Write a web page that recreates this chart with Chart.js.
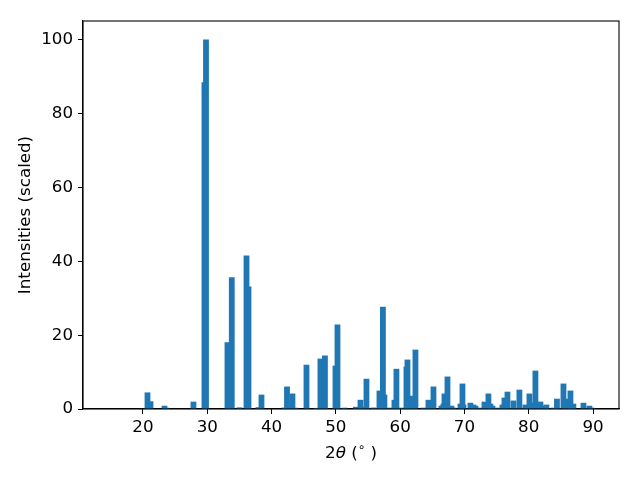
<!DOCTYPE html>
<html>
<head>
<meta charset="utf-8">
<script src="https://cdn.jsdelivr.net/npm/chart.js@4.4.1/dist/chart.umd.min.js"></script>
<style>
  body { margin: 0; background: #fff; }
  canvas { display: block; }
</style>
</head>
<body>
<canvas id="xrd" width="640" height="480"></canvas>
<script>
// peak positions (2theta, degrees) and scaled intensities
var twoTheta = [20.70, 21.17, 23.34, 23.65, 27.85, 29.56, 29.80, 33.14, 33.81, 35.01,
  36.41, 36.10, 37.96, 38.43, 42.00, 42.40, 43.25, 43.72, 45.43, 46.98,
  47.60, 48.30, 49.94, 50.25, 51.34, 53.10, 53.83, 53.98, 54.76, 55.85,
  56.78, 57.55, 57.32, 58.34, 59.11, 59.42, 60.20, 60.98, 61.14, 61.91,
  62.38, 63.62, 64.40, 65.18, 66.42, 66.73, 66.89, 67.36, 67.98, 68.29,
  69.38, 69.69, 69.84, 70.93, 71.40, 71.71, 72.33, 73.11, 73.73, 74.04,
  74.35, 75.12, 75.91, 76.22, 76.69, 77.62, 78.55, 79.49, 80.11, 80.27,
  81.04, 81.82, 82.44, 82.75, 83.84, 84.39, 85.40, 86.17, 86.49, 86.95,
  88.51, 89.44, 89.75];
var intensity = [4.4, 2.0, 0.8, 0.25, 1.9, 88.4, 100, 18.0, 35.6, 0.35,
  33.1, 41.5, 0.4, 3.8, 0.3, 6.0, 4.1, 0.25, 11.9, 0.2,
  13.55, 14.4, 11.65, 22.8, 0.27, 0.5, 2.4, 0.5, 8.1, 0.3,
  4.9, 3.8, 27.6, 0.27, 2.4, 10.8, 0.27, 11.4, 13.3, 3.5,
  16.0, 0.27, 2.4, 6.0, 0.8, 1.35, 4.1, 8.7, 0.8, 0.27,
  1.35, 6.8, 1.1, 1.6, 1.1, 0.8, 0.27, 1.9, 4.1, 1.35,
  0.8, 0.27, 1.1, 3.0, 4.6, 2.2, 5.15, 1.1, 4.1, 1.6,
  10.3, 1.9, 0.8, 1.1, 0.27, 2.7, 6.8, 2.7, 4.9, 1.35,
  1.6, 0.8, 0.27];
var xTicks = [20, 30, 40, 50, 60, 70, 80, 90];
var yTicks = [0, 20, 40, 60, 80, 100];
var yTitle = 'Intensities (scaled)';

var points = [];
for (var i in twoTheta) {
  points.push({x: twoTheta[i], y: intensity[i]});
}
// overlapping bars: paint the small ones first so the tall ones stay on top
points.sort(function(a, b){ return a.y - b.y; });

var txt = {family: 'DejaVu Sans', size: 16.7};

var frame = {
  id: 'frame',
  beforeDraw: function(chart){
    var c = chart.ctx;
    c.save();
    c.fillStyle = '#fff';
    c.fillRect(0, 0, chart.width, chart.height);
    c.restore();
  },
  afterDraw: function(chart){
    var a = chart.chartArea, c = chart.ctx;
    c.save();
    c.strokeStyle = '#000';
    c.lineWidth = 1.1;
    c.strokeRect(a.left, a.top, a.right - a.left, a.bottom - a.top);

    // x label "2θ (°)" with italic theta and raised degree ring, like mathtext
    var parts = [
      {t: '2', f: '16.7px "DejaVu Sans"', dy: 0},
      {t: 'θ', f: 'italic 16.7px "DejaVu Sans"', dy: 0},
      {t: ' (', f: '16.7px "DejaVu Sans"', dy: 0},
      {t: '∘', f: '12px "DejaVu Sans"', dy: -7},
      {t: ' )', f: '16.7px "DejaVu Sans"', dy: 0}
    ];
    var total = 0;
    parts.forEach(function(p){ c.font = p.f; p.w = c.measureText(p.t).width; total += p.w; });
    var x = (a.left + a.right) / 2 - total / 2;
    c.fillStyle = '#000';
    c.textBaseline = 'alphabetic';
    c.textAlign = 'left';
    parts.forEach(function(p){ c.font = p.f; c.fillText(p.t, x, 458 + p.dy); x += p.w; });
    c.restore();
  }
};

new Chart(document.getElementById('xrd'), {
  type: 'bar',
  data: {
    datasets: [{
      data: points,
      backgroundColor: '#1f77b4',
      borderWidth: 0,
      barThickness: 5.14
    }]
  },
  options: {
    responsive: false,
    animation: false,
    devicePixelRatio: 1,
    layout: {padding: {left: 0, top: 21, right: 21, bottom: 10}},
    plugins: {legend: {display: false}, tooltip: {enabled: false}},
    scales: {
      x: {
        type: 'linear',
        min: 10.67,
        max: 94.04,
        offset: false,
        grid: {display: true, offset: false, drawOnChartArea: false, drawTicks: true, tickLength: 5, color: '#000'},
        border: {display: true, color: '#000', width: 1.1},
        ticks: {color: '#000', font: txt, padding: 4, maxRotation: 0},
        afterBuildTicks: function(s){ s.ticks = xTicks.map(function(v){ return {value: v}; }); },
        afterFit: function(s){ s.height = 61; },
        title: {display: false}
      },
      y: {
        min: 0,
        max: 105.1,
        grid: {display: true, drawOnChartArea: false, drawTicks: true, tickLength: 5, color: '#000'},
        border: {display: true, color: '#000', width: 1.1},
        ticks: {color: '#000', font: txt, padding: 5},
        afterBuildTicks: function(s){ s.ticks = yTicks.map(function(v){ return {value: v}; }); },
        afterFit: function(s){ s.width = 83; },
        title: {display: true, text: yTitle, color: '#000', font: txt, padding: {top: 16, bottom: 0}}
      }
    }
  },
  plugins: [frame]
});
</script>
</body>
</html>
